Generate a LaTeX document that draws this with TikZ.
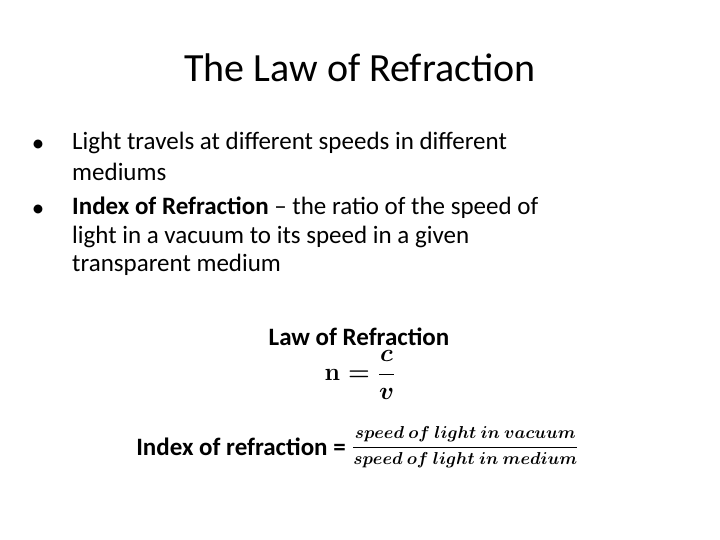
\documentclass[tikz,border=0pt]{standalone}
\usepackage{amsmath}
\usepackage{fontspec}
\setmainfont{Carlito}
\newsavebox{\eqbox}
\newsavebox{\fracbox}
\begin{document}
\sbox{\eqbox}{\fontsize{24}{28}\selectfont\boldmath$\mathbf{n}=\dfrac{c}{v}$}%
\sbox{\fracbox}{\fontsize{19}{22}\selectfont\boldmath$\dfrac{speed\ of\ light\ in\ vacuum}{speed\ of\ light\ in\ medium}$}%
\begin{tikzpicture}[x=1pt,y=-1pt,
  body/.style={anchor=west,inner sep=0pt,font=\fontsize{25}{29}\selectfont},
  bul/.style={anchor=center,inner sep=0pt,font=\fontsize{25}{29}\selectfont}]
\useasboundingbox[fill=white] (0,0) rectangle (720,540);
\node[inner sep=0pt,font=\fontsize{40}{44}\selectfont] (title) at (360,68) {The Law of Refraction};
\node[bul] (b1) at (38,146) {•};
\node[body] (t1a) at (72,143) {Light travels at different speeds in different};
\node[body] (t1b) at (72,172) {mediums};
\node[bul] (b2) at (38,211) {•};
\node[body] (t2a) at (72,208) {\textbf{Index of Refraction} – the ratio of the speed of};
\node[body] (t2b) at (72,237) {light in a vacuum to its speed in a given};
\node[body] (t2c) at (72,265) {transparent medium};
\node[inner sep=0pt,font=\fontsize{25}{29}\selectfont\bfseries] (law) at (359,337) {Law of Refraction};
\node[inner sep=0pt] (eqn) at (360,375) {\usebox{\eqbox}};
\node[anchor=east,inner sep=0pt,font=\fontsize{25}{29}\selectfont\bfseries] (idx) at (346,447) {Index of refraction =};
\node[anchor=west,inner sep=0pt] (frac) at (352,447) {\usebox{\fracbox}};
\end{tikzpicture}
\end{document}
